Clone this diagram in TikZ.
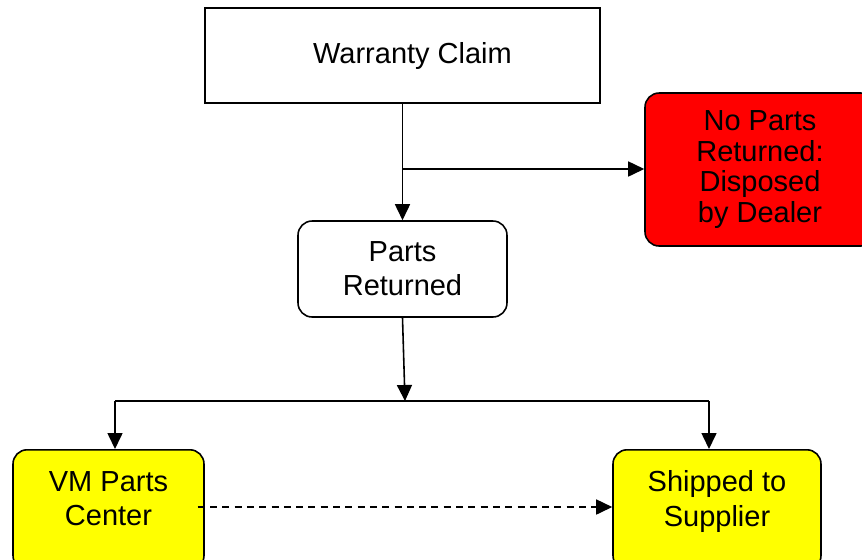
\documentclass[tikz,border=0pt]{standalone}
\usepackage{fontspec}
\setmainfont{Liberation Sans}
\usetikzlibrary{arrows.meta, positioning}
\definecolor{disposedred}{RGB}{255, 0, 0}
\definecolor{partsyellow}{RGB}{255, 255, 0}

\begin{document}
\begin{tikzpicture}[x=0.02cm, y=-0.02cm,
    stage/.style={rectangle, draw=black, line width=0.7pt, font=\fontsize{16.5}{19.5}\selectfont, align=center},
    roundstage/.style={stage, rounded corners=8pt, line width=0.9pt},
    flow/.style={-{Triangle[length=0.32cm, width=0.3cm]}, line width=0.9pt},
]
\useasboundingbox (0,0) rectangle (862,559);

\node[stage, minimum width=7.9cm, minimum height=1.9cm] (claim) at (402.5,55.5) {\hspace*{0.4cm}Warranty Claim};

\node[roundstage, minimum width=4.18cm, minimum height=1.92cm] (returned) at (402.5,269) {Parts\\Returned};

\node[roundstage, fill=disposedred, minimum width=4.6cm, minimum height=3.06cm, font=\fontsize{16.5}{17.5}\selectfont] (disposed) at (760,169.5) {No Parts\\Returned:\\Disposed\\by Dealer};

\node[roundstage, fill=partsyellow, anchor=north, minimum width=3.82cm, minimum height=2.4cm, text depth=13pt] (vmcenter) at (108.5,449) {VM Parts\\Center};
\node[roundstage, fill=partsyellow, anchor=north, minimum width=4.16cm, minimum height=2.4cm, text depth=13pt] (supplier) at (717,449) {Shipped to\\Supplier};

% branch points
\coordinate (fork) at (402.5,169);
\coordinate (split) at (405,401);
\coordinate (splitleft) at (115,401);
\coordinate (splitright) at (709,401);

\draw[flow] (claim.south) -- (returned.north);
\draw[flow] (fork) -- (disposed.west |- fork);
\draw[flow] (returned.south) -- (split);
\draw[line width=0.9pt] (splitleft) -- (splitright);
\draw[flow] (splitleft) -- (splitleft |- vmcenter.north);
\draw[flow] (splitright) -- (splitright |- supplier.north);
\draw[flow, dash pattern=on 4pt off 3pt] ([xshift=-4pt]vmcenter.east |- 0,507) -- (supplier.west |- 0,507);

\end{tikzpicture}
\end{document}
